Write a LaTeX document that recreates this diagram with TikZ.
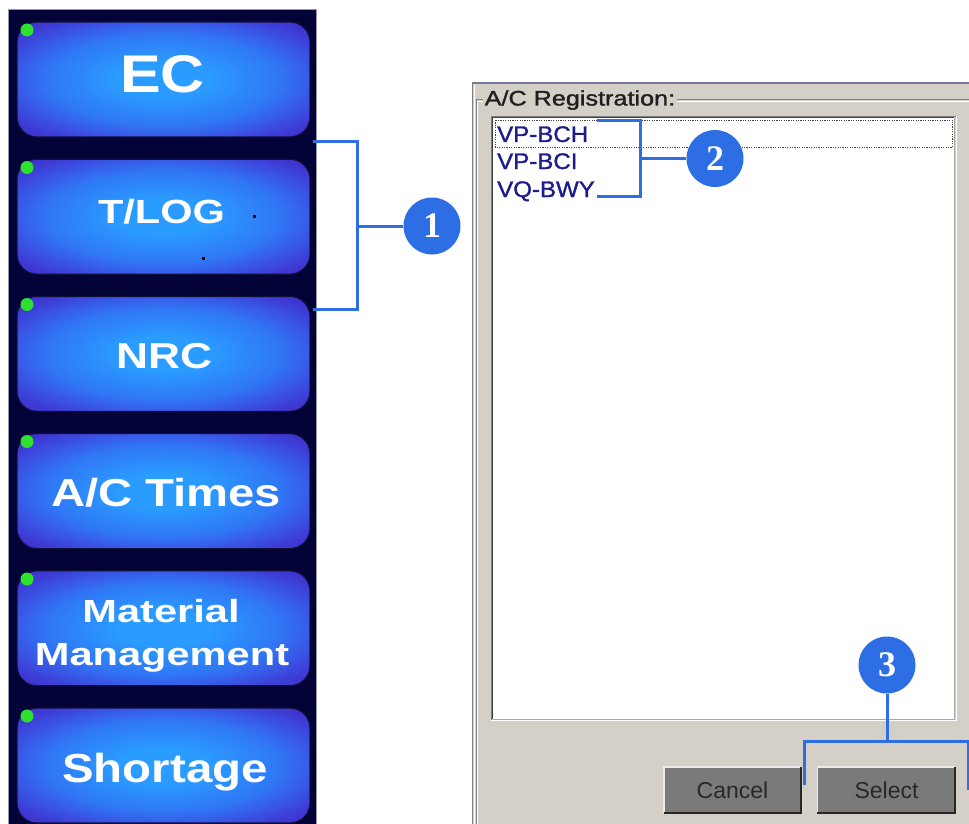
\documentclass[tikz,border=0pt]{standalone}
\usepackage{fontspec}
\usepackage{graphicx}
\setmainfont{Liberation Sans}
\newfontfamily\numfont{Liberation Serif}
\newfontfamily\heavysans[FakeBold=1.3]{Liberation Sans}

% palette
\definecolor{navy}{RGB}{3,3,55}
\definecolor{navyedge}{RGB}{150,150,175}
\definecolor{btnC}{RGB}{42,155,255}
\definecolor{btnM}{RGB}{48,118,245}
\definecolor{btnE}{RGB}{56,90,232}
\definecolor{btnK}{RGB}{62,58,212}
\definecolor{btnZ}{RGB}{60,42,195}
\definecolor{btnline}{RGB}{15,15,60}
\definecolor{led}{RGB}{45,225,45}
\definecolor{dlg}{RGB}{212,208,200}
\definecolor{dlgtop}{RGB}{120,120,160}
\definecolor{shadowg}{RGB}{128,128,128}
\definecolor{darkg}{RGB}{64,64,64}
\definecolor{itemblue}{RGB}{28,28,140}
\definecolor{pushfill}{RGB}{122,122,122}
\definecolor{pushtext}{RGB}{40,40,40}
\definecolor{callout}{RGB}{45,110,228}

% soft glow of the menu buttons: light centre, deeper violet-blue towards the rim
% (the square -25bp..25bp is stretched over the button)
\pgfdeclareradialshading{btnglow}{\pgfpoint{0bp}{0bp}}{%
  color(0bp)=(btnC); color(8bp)=(btnC); color(20bp)=(btnM);
  color(25bp)=(btnE); color(31bp)=(btnK); color(36bp)=(btnZ); color(50bp)=(btnZ)}

\newcommand{\wide}[2]{\scalebox{#1}[1]{#2}}

\tikzset{
  menubtn/.style={draw=btnline, line width=1.2pt, rounded corners=20pt,
    minimum width=293pt, minimum height=115pt, inner sep=0pt,
    shade, shading=btnglow},
  menutext/.style={anchor=base, inner sep=0pt, text=white},
  leddot/.style={circle, fill=led, minimum size=13pt, inner sep=0pt},
  itemtext/.style={anchor=base west, inner sep=0pt, text=itemblue,
    font=\heavysans\fontsize{22.5}{26}\selectfont},
  pushbtn/.style={fill=pushfill, minimum width=137pt, minimum height=46pt,
    inner sep=0pt},
  pushtext/.style={anchor=base, inner sep=0pt, text=pushtext,
    font=\fontsize{23}{26}\selectfont},
  conn/.style={draw=callout, line width=3pt},
  badge/.style={circle, fill=callout, minimum size=57pt, inner sep=0pt,
    text=white, font=\numfont\bfseries\fontsize{36}{40}\selectfont},
}

\begin{document}
\begin{tikzpicture}[x=1pt,y=-1pt]
\useasboundingbox (0,0) rectangle (969,824);
\fill[white] (0,0) rectangle (969,824);

% ---------------- left menu column ----------------
\fill[navy] (8,10) rectangle (316,824);
\draw[navyedge, line width=1pt] (8,824) -- (8,10) -- (316,10) -- (316,824);

\node[menubtn] (bEC)   at (163.5,79.5)  {};
\node[menubtn] (bLOG)  at (163.5,216.7) {};
\node[menubtn] (bNRC)  at (163.5,353.9) {};
\node[menubtn] (bACT)  at (163.5,491.1) {};
\node[menubtn] (bMAT)  at (163.5,628.3) {};
\node[menubtn] (bSHO)  at (163.5,765.5) {};

\node[leddot] (dEC)  at (27,30)    {};
\node[leddot] (dLOG) at (27,167.5) {};
\node[leddot] (dNRC) at (27,304.5) {};
\node[leddot] (dACT) at (27,441.5) {};
\node[leddot] (dMAT) at (27,579)   {};
\node[leddot] (dSHO) at (27,716)   {};

\node[menutext, font=\bfseries\fontsize{53}{60}\selectfont] (tEC) at (162.5,93) {\wide{1.15}{EC}};
\node[menutext, font=\bfseries\fontsize{33.5}{40}\selectfont] (tLOG) at (161.5,223) {\wide{1.24}{T/LOG}};
\node[menutext, font=\bfseries\fontsize{36}{40}\selectfont] (tNRC) at (164.5,368) {\wide{1.23}{NRC}};
\node[menutext, font=\bfseries\fontsize{39}{44}\selectfont] (tACT) at (166,506) {\wide{1.21}{A/C Times}};
\node[menutext, font=\bfseries\fontsize{32}{36}\selectfont] (tMAT1) at (161,622) {\wide{1.30}{Material}};
\node[menutext, font=\bfseries\fontsize{32}{36}\selectfont] (tMAT2) at (162,665) {\wide{1.30}{Management}};
\node[menutext, font=\bfseries\fontsize{40.5}{46}\selectfont] (tSHO) at (165,782) {\wide{1.17}{Shortage}};

% two stray specks on the T/LOG button
\fill[black] (253,215) rectangle (255.5,217.5);
\fill[black] (201.5,256.5) rectangle (205,259.5);

% ---------------- registration dialog ----------------
\fill[dlg] (472,83) rectangle (969,824);
\draw[dlgtop, line width=2pt] (472,83) -- (969,83);
\draw[shadowg, line width=1.2pt] (472.5,84) -- (472.5,824);
\draw[white, line width=1pt] (474,85) -- (474,824);

% etched group frame
\draw[shadowg, line width=1pt] (476,824) -- (476,100) -- (969,100);
\draw[white, line width=1pt] (477.2,824) -- (477.2,101.2) -- (969,101.2);
\node[anchor=base west, fill=dlg, inner xsep=2pt, inner ysep=1pt,
      text=black!88, font=\heavysans\fontsize{21}{24}\selectfont] (lblReg) at (482.5,105.5)
      {\wide{1.2}{A/C Registration:}};

% sunken list box
\fill[white] (493,118) rectangle (954,719);
\draw[shadowg, line width=1pt] (491,720) -- (491,116.5) -- (955.5,116.5);
\draw[darkg, line width=1pt] (492.5,719) -- (492.5,118) -- (954,118);
\draw[white, line width=1pt] (491,720.5) -- (956,720.5) -- (956,116.5);
\draw[dlg!80!black, line width=0.8pt] (493,719.2) -- (954.8,719.2) -- (954.8,118);

% focus rectangle round the first entry
\draw[darkg, line width=0.8pt, dash pattern=on 1.2pt off 1.2pt] (495,120) rectangle (952.5,147);

\node[itemtext] (iBCH) at (497,142) {\wide{1.07}{VP-BCH}};
\node[itemtext] (iBCI) at (497,169) {\wide{1.07}{VP-BCI}};
\node[itemtext] (iBWY) at (497,197) {\wide{1.07}{VQ-BWY}};

% push buttons
\node[pushbtn] (bCancel) at (732.5,790) {};
\node[pushbtn] (bSelect) at (886,790) {};
\foreach \b in {bCancel,bSelect}{
  \draw[white!92!black, line width=1.5pt] (\b.south west) -- (\b.north west) -- (\b.north east);
  \draw[black!85, line width=2pt] (\b.north east) -- (\b.south east) -- (\b.south west);
}
\node[pushtext] (tCancel) at (732.5,798) {Cancel};
\node[pushtext] (tSelect) at (886.5,798) {Select};

% ---------------- callouts ----------------
\node[badge] (c1) at (432,226) {1};
\node[badge] (c2) at (715,158.5) {2};
\node[badge] (c3) at (887,665) {3};

% callout 1: bracket over T/LOG
\coordinate (k1a) at (313,142);
\coordinate (k1b) at (357,142);
\coordinate (k1c) at (357,309);
\coordinate (k1d) at (313,309);
\coordinate (k1m) at (357,226);
\draw[conn, line join=miter] (k1a) -- (k1b) -- (k1c) -- (k1d);
\draw[conn] (k1m) -- (c1);

% callout 2: bracket over the registrations
\coordinate (k2a) at (597,121);
\coordinate (k2b) at (640,121);
\coordinate (k2c) at (640,196);
\coordinate (k2d) at (597,196);
\coordinate (k2m) at (640,158.5);
\draw[conn, line join=miter] (k2a) -- (k2b) -- (k2c) -- (k2d);
\draw[conn] (k2m) -- (c2);

% callout 3: bracket over the push buttons
\coordinate (k3m) at (887,741);
\coordinate (k3l) at (804,741);
\coordinate (k3ld) at (804,785);
\coordinate (k3r) at (968,741);
\coordinate (k3rd) at (968,790);
\draw[conn, line join=miter] (k3ld) -- (k3l) -- (k3r) -- (k3rd);
\draw[conn] (c3) -- (k3m);
\end{tikzpicture}
\end{document}
